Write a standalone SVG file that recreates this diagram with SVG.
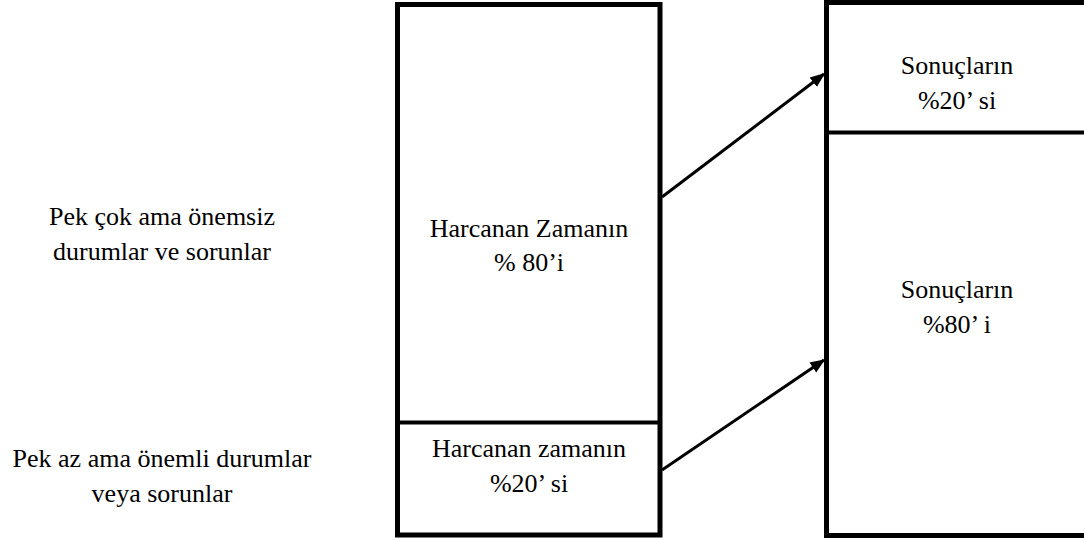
<svg xmlns="http://www.w3.org/2000/svg" width="1084" height="540" viewBox="0 0 1084 540">
  <defs>
    <style>
      .box { fill: none; stroke: #000; stroke-width: 5; }
      .div { stroke: #000; stroke-width: 4; }
      .lbl { font-family: 'Liberation Serif', 'Times New Roman', serif; font-size: 26px; fill: #000; text-anchor: middle; }
      .con { stroke: #000; stroke-width: 3; fill: none; marker-end: url(#arrow); }
    </style>
    <marker id="arrow" viewBox="0 0 10 10" refX="9" refY="5" markerWidth="5" markerHeight="5" orient="auto" markerUnits="strokeWidth">
      <path d="M0,1 L10,5 L0,9 z" fill="#000"/>
    </marker>
  </defs>
  <rect width="1084" height="540" fill="#fff"/>

  <!-- side captions -->
  <g id="caption-many">
    <text class="lbl" x="162" y="225">Pek çok ama önemsiz</text>
    <text class="lbl" x="162" y="260">durumlar ve sorunlar</text>
  </g>
  <g id="caption-few">
    <text class="lbl" x="162" y="467">Pek az ama önemli durumlar</text>
    <text class="lbl" x="162" y="502">veya sorunlar</text>
  </g>

  <!-- time column -->
  <g id="time-column">
    <rect class="box" x="397.5" y="4.5" width="262.5" height="530.5"/>
    <line class="div" x1="397.5" y1="422.5" x2="660" y2="422.5"/>
  </g>
  <g id="time-80">
    <text class="lbl" x="529" y="237">Harcanan Zamanın</text>
    <text class="lbl" x="529" y="271">% 80’i</text>
  </g>
  <g id="time-20">
    <text class="lbl" x="529" y="457">Harcanan zamanın</text>
    <text class="lbl" x="529" y="492">%20’ si</text>
  </g>

  <!-- results column (runs off the right edge) -->
  <g id="results-column">
    <rect class="box" x="826.5" y="2.5" width="270" height="533"/>
    <line class="div" x1="826.5" y1="132.5" x2="1090" y2="132.5"/>
  </g>
  <g id="results-20">
    <text class="lbl" x="957" y="74">Sonuçların</text>
    <text class="lbl" x="957" y="109">%20’ si</text>
  </g>
  <g id="results-80">
    <text class="lbl" x="957" y="298">Sonuçların</text>
    <text class="lbl" x="957" y="333">%80’ i</text>
  </g>

  <!-- connectors -->
  <g id="connectors">
    <line class="con" x1="662" y1="197" x2="824" y2="74"/>
    <line class="con" x1="662" y1="470" x2="824" y2="360"/>
  </g>
</svg>
